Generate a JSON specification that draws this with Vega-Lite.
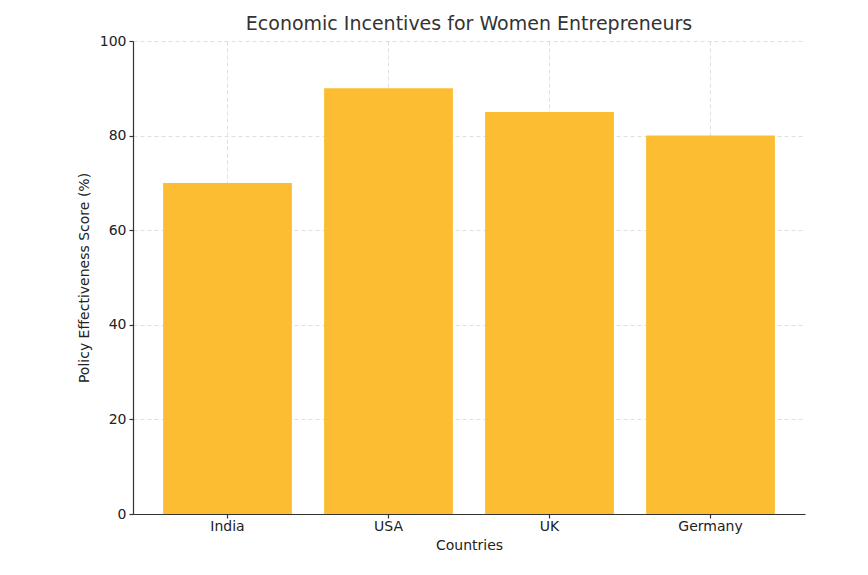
{
  "$schema": "https://vega.github.io/schema/vega-lite/v6.json",
  "width": 672,
  "height": 473,
  "autosize": "none",
  "padding": {"left": 133, "top": 41, "right": 63, "bottom": 61},
  "background": "white",
  "config": {
    "view": {"stroke": null},
    "font": "DejaVu Sans",
    "axis": {
      "domainColor": "#333333",
      "domainWidth": 1.2,
      "tickColor": "#333333",
      "tickSize": 4,
      "tickWidth": 1.2,
      "labelColor": "#222222",
      "labelFontSize": 14,
      "labelFont": "DejaVu Sans",
      "titleFont": "DejaVu Sans",
      "titleFontSize": 14,
      "titleFontWeight": "normal",
      "titleColor": "#222222",
      "gridColor": "#cccccc",
      "gridDash": [4, 3],
      "gridOpacity": 0.8,
      "gridWidth": 0.8,
      "labelPadding": 3,
      "zindex": 1
    }
  },
  "title": {
    "text": "Economic Incentives for Women Entrepreneurs",
    "fontSize": 19,
    "fontWeight": "normal",
    "color": "#333333",
    "font": "DejaVu Sans",
    "offset": 0
  },
  "data": {
    "values": [
      {"country": "India", "score": 70},
      {"country": "USA", "score": 90},
      {"country": "UK", "score": 85},
      {"country": "Germany", "score": 80}
    ]
  },
  "mark": {"type": "bar", "color": "#FDBD32"},
  "encoding": {
    "x": {
      "field": "country",
      "type": "nominal",
      "sort": null,
      "title": "Countries",
      "scale": {"paddingInner": 0.2, "paddingOuter": 0.187},
      "axis": {"labelAngle": 0, "grid": true, "bandPosition": 0.5, "labelPadding": 1, "titlePadding": 5}
    },
    "y": {
      "field": "score",
      "type": "quantitative",
      "title": "Policy Effectiveness Score (%)",
      "scale": {"domain": [0, 100], "nice": false},
      "axis": {"values": [0, 20, 40, 60, 80, 100], "titlePadding": 8}
    }
  }
}
